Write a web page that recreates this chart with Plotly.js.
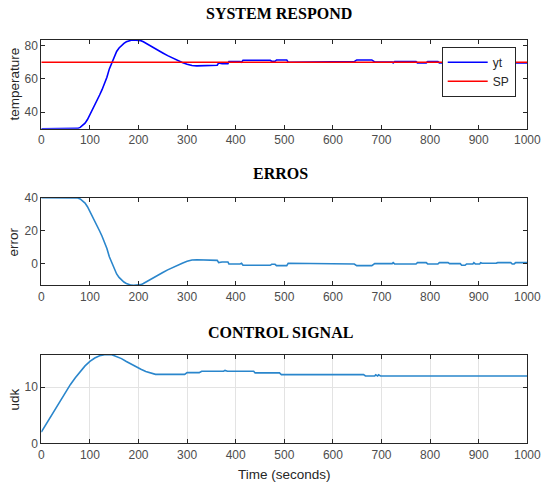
<!DOCTYPE html>
<html>
<head>
<meta charset="utf-8">
<script src="https://cdn.plot.ly/plotly-3.0.1.min.js"></script>
<style>html,body{margin:0;padding:0;background:#fff;}#chart{width:541px;height:489px;}</style>
</head>
<body>
<div id="chart"></div>
<script>
// ---- data ----
const tYt = [0,70,75,80,85,90,95,100,105,110,115,120,125,130,135,140,145,150,155,160,165,170,175,180,185,190,200,205,210,220,230,240,250,260,270,280,290,300,310,320,340,362,365,372,384,386,409,412,415,471,474,481,484,505,508,562,566,586,590,603,607,627,630,644,649,680,686,722,724,727,771,774,792,795,816,819,837,840,862,865,872,875,888,890,893,902,904,907,936,939,966,969,973,976,1000];
const yt  = [30,30,30.2,30.8,31.8,33.3,35.5,38.3,41.2,44.2,47.3,50.3,53.5,57,61,66,69.8,73.5,76.5,78.6,80.2,81.4,82.3,83,83.3,83.4,83.4,83,82.3,80.5,78.8,77.2,75.6,74,72.5,71.2,69.9,68.8,68,67.8,68,68.2,69.6,69.2,69.2,70.4,70.4,70,71.2,71.2,70.6,70.6,71.4,71.4,70,70,70.4,70.4,70,70,70.2,70.2,70.4,70.4,71.4,71.4,70.2,70.2,69.6,70.4,70.4,69.6,69.6,70.4,70.4,69.6,69.6,70.2,70.2,71.2,71.2,70.4,70.4,69.6,70.4,70.4,69.6,70,70,69.6,69.6,70.4,70.4,69.6,69.6];
const tSp = [0, 1000];
const sp  = [70, 70];

const tErr = [0,70,75,80,85,90,95,100,105,110,115,120,125,130,135,140,145,150,155,160,165,170,175,180,185,190,200,205,210,220,230,240,250,260,270,280,290,300,310,320,340,362,365,372,384,386,409,412,415,471,474,481,484,505,508,562,566,586,590,603,607,627,630,644,649,680,686,722,724,727,771,774,792,795,816,819,837,840,862,865,872,875,888,890,893,902,904,907,936,939,966,969,973,976,1000];
const err  = [40,40,39.8,39.2,38.2,36.7,34.5,31.7,28.8,25.8,22.7,19.7,16.5,13,9,4,0.2,-3.5,-6.5,-8.6,-10.2,-11.4,-12.3,-13,-13.3,-13.4,-13.4,-13,-12.3,-10.5,-8.8,-7.2,-5.6,-4,-2.5,-1.2,0.1,1.2,2,2.2,2,1.8,0.4,0.8,0.8,-0.4,-0.4,0,-1.2,-1.2,-0.6,-0.6,-1.4,-1.4,0,0,-0.4,-0.4,0,0,-0.2,-0.2,-0.4,-0.4,-1.4,-1.4,-0.2,-0.2,0.4,-0.4,-0.4,0.4,0.4,-0.4,-0.4,0.4,0.4,-0.2,-0.2,-1.2,-1.2,-0.4,-0.4,0.4,-0.4,-0.4,0.4,0,0,0.4,0.4,-0.4,-0.4,0.4,0.4];

const tU = [0,10,20,30,40,50,60,70,80,90,100,110,120,130,145,155,165,175,185,195,205,215,225,235,295,300,325,330,375,378,383,437,440,490,494,663,667,686,688,692,694,698,1000];
const udk = [2,3.4,4.9,6.3,7.8,9.2,10.5,11.7,12.8,13.8,14.6,15.2,15.6,15.8,15.8,15.5,15.1,14.6,14.1,13.6,13.2,12.8,12.5,12.3,12.3,12.6,12.6,12.85,12.85,13.0,12.85,12.85,12.55,12.55,12.25,12.25,12.0,12.0,12.2,12.0,12.2,12.0,12.0];

const xTicks = [0,100,200,300,400,500,600,700,800,900,1000];

// ---- layout helpers ----
const W = 541, H = 489;
const px = v => v / W;
const py = v => 1 - v / H;
const xDom = [px(41.3), px(527.3)];
const axCol = '#262626';
const tickFont = {family: 'Liberation Sans, Arial, sans-serif', size: 12, color: '#4d4d4d'};

function xAx(anchor, grid) {
  return {
    domain: xDom, anchor: anchor, range: [0, 1000], tickvals: xTicks, ticktext: xTicks.map(String),
    showline: true, mirror: 'ticks', linecolor: axCol, linewidth: 1,
    ticks: 'inside', ticklen: 4, tickcolor: axCol, tickwidth: 1,
    tickfont: tickFont, showgrid: grid, gridcolor: '#e3e3e3', gridwidth: 1, zeroline: false, fixedrange: true
  };
}
function yAx(anchor, dom, range, dtick, grid) {
  return {
    domain: dom, anchor: anchor, range: range, dtick: dtick, tick0: 0,
    showline: true, mirror: 'ticks', linecolor: axCol, linewidth: 1,
    ticks: 'inside', ticklen: 4, tickcolor: axCol, tickwidth: 1,
    tickfont: tickFont, showgrid: grid, gridcolor: '#e3e3e3', gridwidth: 1, zeroline: false, fixedrange: true
  };
}

const data = [
  {x: tYt, y: yt, type: 'scatter', mode: 'lines', name: 'yt', line: {color: '#0000ff', width: 1.6}, xaxis: 'x', yaxis: 'y'},
  {x: tSp, y: sp, type: 'scatter', mode: 'lines', name: 'SP', line: {color: '#ff0000', width: 1.6}, xaxis: 'x', yaxis: 'y'},
  {x: tErr, y: err, type: 'scatter', mode: 'lines', name: 'error', showlegend: false, line: {color: '#2a86cc', width: 1.6}, xaxis: 'x2', yaxis: 'y2'},
  {x: tU, y: udk, type: 'scatter', mode: 'lines', name: 'udk', showlegend: false, line: {color: '#2a86cc', width: 1.6}, xaxis: 'x3', yaxis: 'y3'}
];

const titleFont = {family: 'Liberation Serif, Times New Roman, serif', size: 16, color: '#000'};
const labFont = {family: 'Liberation Sans, Arial, sans-serif', size: 13.5, color: '#262626'};

const layout = {
  width: W, height: H,
  margin: {l: 0, r: 0, t: 0, b: 0},
  paper_bgcolor: '#fff', plot_bgcolor: '#fff',
  font: {family: 'Liberation Sans, Arial, sans-serif'},
  showlegend: true,
  legend: {
    x: px(441.7), y: py(46.7), xanchor: 'left', yanchor: 'top',
    bgcolor: '#fff', bordercolor: axCol, borderwidth: 1, itemwidth: 40,
    font: {family: 'Liberation Sans, Arial, sans-serif', size: 12, color: '#262626'},
    tracegroupgap: 0
  },
  xaxis: xAx('y', false),
  yaxis: yAx('x', [py(128.7), py(40)], [30, 83.4], 20, false),
  xaxis2: xAx('y2', false),
  yaxis2: yAx('x2', [py(285.3), py(197.7)], [-13.4, 40], 20, false),
  xaxis3: xAx('y3', true),
  yaxis3: yAx('x3', [py(443.3), py(354.7)], [0, 15.8], 10, true),
  annotations: [
    {text: '<b>SYSTEM RESPOND</b>', xref: 'paper', yref: 'paper', x: px(279), y: py(13), xanchor: 'center', yanchor: 'middle', showarrow: false, font: titleFont},
    {text: '<b>ERROS</b>', xref: 'paper', yref: 'paper', x: px(280), y: py(174), xanchor: 'center', yanchor: 'middle', showarrow: false, font: titleFont},
    {text: '<b>CONTROL SIGNAL</b>', xref: 'paper', yref: 'paper', x: px(280), y: py(332), xanchor: 'center', yanchor: 'middle', showarrow: false, font: titleFont},
    {text: 'temperature', xref: 'paper', yref: 'paper', x: px(13.5), y: py(84), xanchor: 'center', yanchor: 'middle', textangle: -90, showarrow: false, font: labFont},
    {text: 'error', xref: 'paper', yref: 'paper', x: px(13.5), y: py(242), xanchor: 'center', yanchor: 'middle', textangle: -90, showarrow: false, font: labFont},
    {text: 'udk', xref: 'paper', yref: 'paper', x: px(13.5), y: py(400), xanchor: 'center', yanchor: 'middle', textangle: -90, showarrow: false, font: labFont},
    {text: 'Time (seconds)', xref: 'paper', yref: 'paper', x: px(284), y: py(474), xanchor: 'center', yanchor: 'middle', showarrow: false, font: labFont}
  ]
};

Plotly.newPlot('chart', data, layout, {staticPlot: true, displayModeBar: false});
</script>
</body>
</html>
